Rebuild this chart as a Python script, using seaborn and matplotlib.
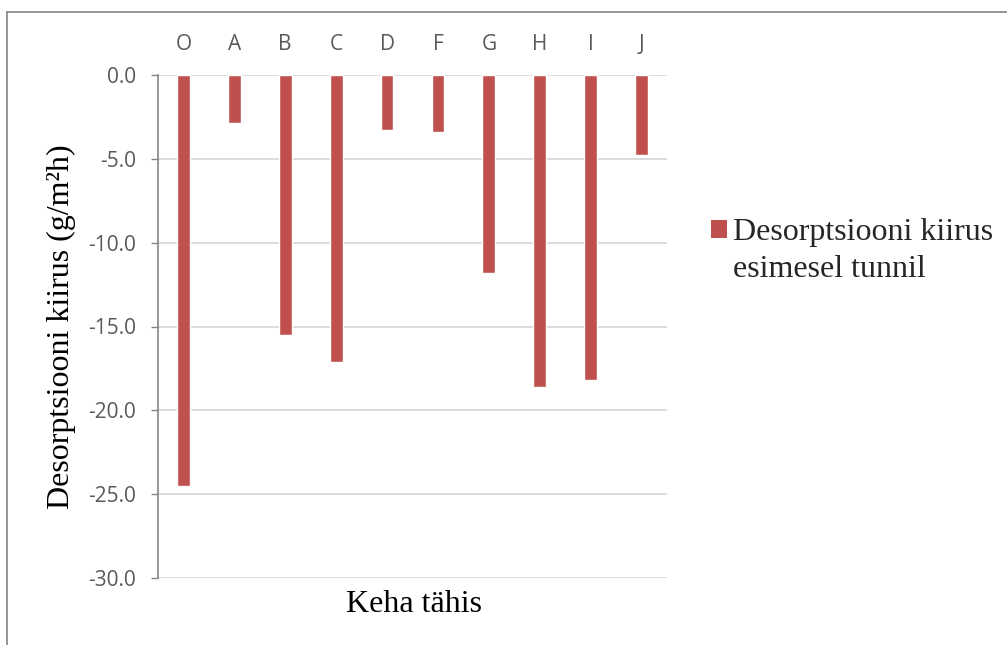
import matplotlib
matplotlib.use('Agg')
import matplotlib.pyplot as plt
import seaborn as sns
import pandas as pd
from matplotlib.patches import Patch
from matplotlib.lines import Line2D

categories = ['O', 'A', 'B', 'C', 'D', 'F', 'G', 'H', 'I', 'J']
values = [-24.5, -2.9, -15.5, -17.1, -3.3, -3.4, -11.8, -18.6, -18.2, -4.8]
y_ticks = [0, -5, -10, -15, -20, -25, -30]
series_line1 = 'Desorptsiooni kiirus'
series_line2 = 'esimesel tunnil'
x_label = 'Keha tähis'
y_label = 'Desorptsiooni kiirus (g/m²h)'

sns.set_theme(style='white')
plt.rcParams['font.family'] = ['Open Sans', 'DejaVu Sans']

W, H = 1007, 645
fig = plt.figure(figsize=(W / 100, H / 100), dpi=100)
left, right, top, bottom = 158, 667, 74.7, 578.3
ax = fig.add_axes([left / W, 1 - bottom / H, (right - left) / W, (bottom - top) / H])

df = pd.DataFrame({'cat': categories, 'val': values})
sns.barplot(data=df, x='cat', y='val', color='#C0504D', saturation=1,
            width=0.25, ax=ax, zorder=3)

ax.set_xlim(-0.5, len(categories) - 0.5)
ax.set_ylim(-30, 0)
ax.set_yticks(y_ticks)
ax.set_yticklabels([f'{v:.1f}' for v in y_ticks])
ax.yaxis.grid(True, color='#D9D9D9', lw=1.3, zorder=0)
ax.set_axisbelow(True)
ax.xaxis.tick_top()
ax.tick_params(axis='x', length=0, pad=14, labelsize=15, labelcolor='#595959')
ax.tick_params(axis='y', length=5, width=1, color='#868686', pad=11,
               labelsize=15, labelcolor='#595959', left=True)
ax.set_xlabel('')
ax.set_ylabel('')
for s in ['top', 'right', 'bottom']:
    ax.spines[s].set_visible(False)
ax.spines['left'].set_color('#868686')
ax.spines['left'].set_linewidth(1.2)
ax.spines['left'].set_zorder(4)

serif = ['Liberation Serif', 'DejaVu Serif']
fig.text(61 / W, 1 - 327 / H, y_label, rotation=90, ha='center', va='center',
         family=serif, fontsize=23, color='black')
fig.text(414 / W, 1 - 604 / H, x_label, ha='center', va='center',
         family=serif, fontsize=23, color='black')

handles = [Patch(facecolor='#C0504D', edgecolor='none'),
           Patch(facecolor='none', edgecolor='none')]
fig.legend(handles, [series_line1, series_line2], loc='upper left',
           bbox_to_anchor=(711 / W, 1 - 218 / H), frameon=False,
           prop={'family': serif, 'size': 23}, handlelength=0.5,
           handleheight=0.5, handletextpad=0.2, labelspacing=0.25,
           borderpad=0, borderaxespad=0)

# outer chart border (partially visible)
fig.add_artist(Line2D([7 / W, 7 / W], [0, 1 - 12 / H], transform=fig.transFigure,
                      color='#8C8C8C', lw=1.3))
fig.add_artist(Line2D([7 / W, 1], [1 - 12 / H, 1 - 12 / H], transform=fig.transFigure,
                      color='#8C8C8C', lw=1.3))

fig.savefig('out.png', dpi=100)
